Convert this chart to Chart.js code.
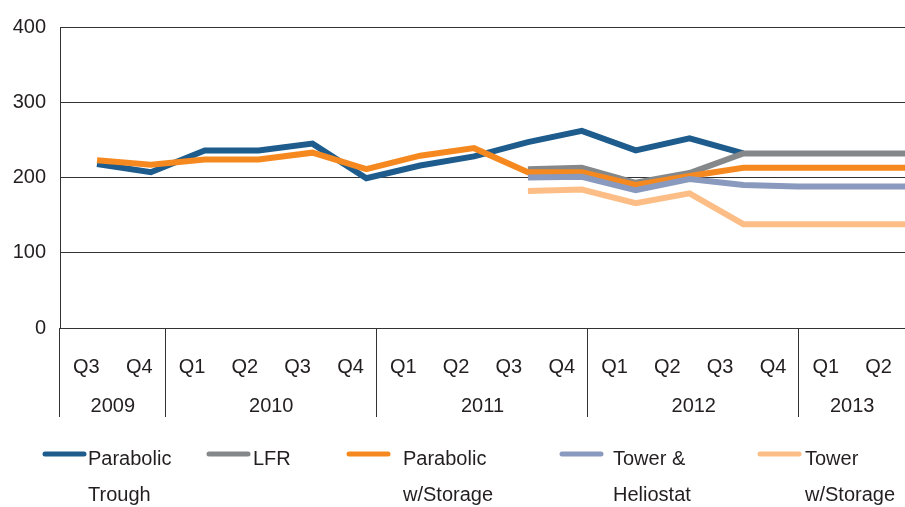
<!DOCTYPE html>
<html>
<head>
<meta charset="utf-8">
<script src="https://cdn.jsdelivr.net/npm/chart.js@4/dist/chart.umd.min.js"></script>
<style>
  html, body { margin: 0; padding: 0; background: #fff; }
</style>
</head>
<body>
<canvas id="lineChart" width="905" height="507"></canvas>
<script>
const quarters = ['Q3', 'Q4', 'Q1', 'Q2', 'Q3', 'Q4', 'Q1', 'Q2', 'Q3', 'Q4', 'Q1', 'Q2', 'Q3', 'Q4', 'Q1', 'Q2']
const years = ['2009', '2010', '2011', '2012', '2013']
const quartersPerYear = [2, 4, 4, 4, 2]

const seriesNames = [['Parabolic', 'Trough'], ['LFR'], ['Parabolic', 'w/Storage'], ['Tower &', 'Heliostat'], ['Tower', 'w/Storage']]
const parabolicTrough = [218, 207, 236, 236, 245, 199, 216, 228, 247, 262, 236, 252, 232, null, null, null]
const lfr = [null, null, null, null, null, null, null, null, 211, 213, 193, 206, 232, 232, 232, 232]
const parabolicStorage = [223, 217, 224, 224, 233, 211, 229, 239, 207, 207, 190, 202, 213, 213, 213, 213]
const towerHeliostat = [null, null, null, null, null, null, null, null, 200, 201, 183, 198, 190, 188, 188, 188]
const towerStorage = [null, null, null, null, null, null, null, null, 182, 184, 166, 179, 138, 138, 138, 138]
const seriesColors = ['#1d5c8c', '#85888a', '#f5891f', '#899abe', '#fcbe86']

const CHART = document.getElementById('lineChart')
const FONT = "'Liberation Sans', Arial, sans-serif"
const INK = '#231f20'
const RULE = '#333333'

// points sit a bit right of the category centres, like the original
function points (values) {
  return values.map((v, i) => ({ x: i, y: v }))
}

const allSeries = [parabolicTrough, lfr, parabolicStorage, towerHeliostat, towerStorage]

const yearRow = {
  id: 'yearRow',
  afterDraw (chart) {
    const ctx = chart.ctx
    const q = chart.scales.q
    const step = (q.right - q.left) / quarters.length
    const top = chart.chartArea.bottom
    ctx.save()
    ctx.strokeStyle = RULE
    ctx.lineWidth = 1
    ctx.fillStyle = INK
    ctx.font = '20px ' + FONT
    ctx.textAlign = 'center'
    ctx.textBaseline = 'middle'
    let b = 0
    years.forEach((yr, i) => {
      const x = Math.round(q.left + b * step) - 0.5
      ctx.beginPath()
      ctx.moveTo(x, top)
      ctx.lineTo(x, top + 89)
      ctx.stroke()
      ctx.fillText(yr, q.left + (b + quartersPerYear[i] / 2) * step, top + 78)
      b += quartersPerYear[i]
    })
    ctx.restore()
  }
}

const legendBox = {
  id: 'legendBox',
  afterDraw (chart) {
    const ctx = chart.ctx
    const lineX = [43, 207, 347, 560, 758]
    const textX = [88, 253, 403, 613, 805]
    ctx.save()
    ctx.font = '20px ' + FONT
    ctx.textAlign = 'left'
    ctx.textBaseline = 'middle'
    ctx.lineCap = 'round'
    ctx.lineWidth = 5
    seriesNames.forEach((name, i) => {
      ctx.strokeStyle = seriesColors[i]
      ctx.beginPath()
      ctx.moveTo(lineX[i] + 2, 454)
      ctx.lineTo(lineX[i] + 41, 454)
      ctx.stroke()
      ctx.fillStyle = INK
      name.forEach((line, k) => ctx.fillText(line, textX[i], 459 + k * 36))
    })
    ctx.restore()
  }
}

new Chart(CHART, {
  type: 'line',
  data: {
    datasets: allSeries.map((values, i) => ({
      label: seriesNames[i].join(' '),
      data: points(values),
      xAxisID: 'x',
      borderColor: seriesColors[i],
      backgroundColor: seriesColors[i],
      borderWidth: 6,
      pointRadius: 0,
      tension: 0,
      spanGaps: false,
      order: allSeries.length - i
    }))
  },
  options: {
    responsive: false,
    animation: false,
    layout: { padding: { top: 27, right: 0, bottom: 92, left: 0 } },
    plugins: {
      legend: { display: false },
      tooltip: { enabled: false }
    },
    scales: {
      x: {
        type: 'linear',
        display: false,
        min: -0.687,
        max: 15
      },
      q: {
        type: 'category',
        position: 'bottom',
        labels: quarters,
        offset: true,
        grid: { display: false },
        border: { display: false },
        ticks: {
          color: INK,
          font: { family: FONT, size: 20 },
          padding: 19,
          maxRotation: 0,
          autoSkip: false
        },
        afterFit (scale) {
          scale.height = 87
          scale.paddingLeft = 0
          scale.paddingRight = 0
        }
      },
      y: {
        min: 0,
        max: 400,
        ticks: {
          stepSize: 100,
          color: INK,
          font: { family: FONT, size: 20 },
          padding: 14
        },
        grid: { color: RULE, lineWidth: 1, drawTicks: false },
        border: { color: RULE, width: 1 },
        afterFit (scale) { scale.width = 60 }
      }
    }
  },
  plugins: [yearRow, legendBox]
})
</script>
</body>
</html>
